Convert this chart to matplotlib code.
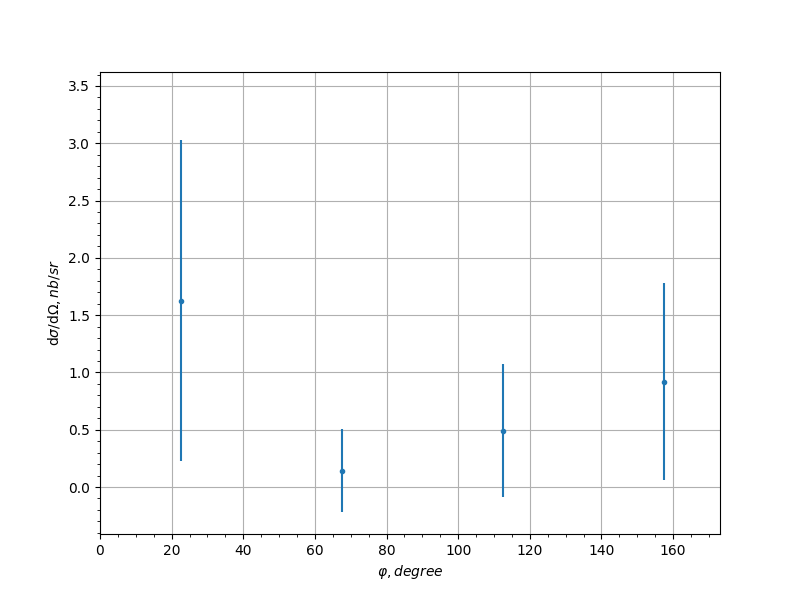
import matplotlib
matplotlib.use("Agg")
import matplotlib.pyplot as plt

# azimuthal bins, cross-section and errors
phi = [22.5, 67.5, 112.5, 157.5]
xsec = [1.627, 0.144, 0.493, 0.920]
err = [1.40, 0.362, 0.580, 0.860]

fig, ax = plt.subplots(figsize=(8, 6), dpi=100)
ax.errorbar(phi, xsec, yerr=err, fmt=".", color="#1f77b4")
ax.set_xlim(0, 173.1)
ax.set_ylim(-0.41, 3.622)
ax.minorticks_on()
ax.grid(True, which="major", color="#b0b0b0")
ax.set_xlabel(r"$\varphi, degree$")
ax.set_ylabel(r"d$\sigma$/d$\Omega, nb/sr$")
fig.savefig("out.png", dpi=100)
